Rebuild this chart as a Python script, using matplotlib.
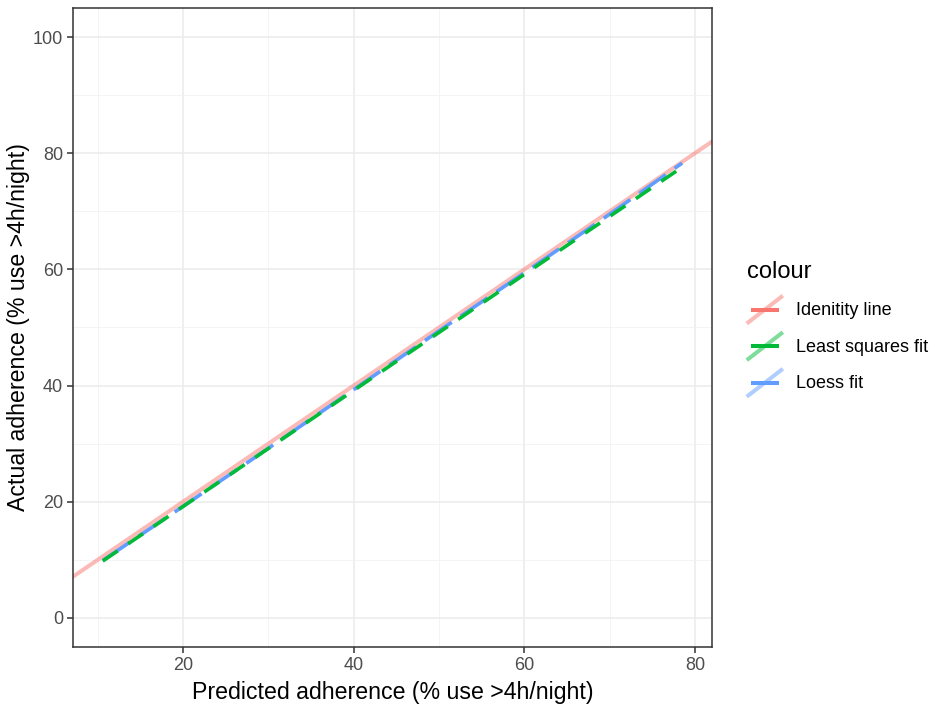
import numpy as np
import matplotlib as mpl
mpl.use('Agg')
import matplotlib.pyplot as plt
from matplotlib.lines import Line2D
from matplotlib.legend_handler import HandlerBase

plt.rcParams['font.family'] = ['Liberation Sans', 'DejaVu Sans']

# values
identity_x = [0, 100]
identity_y = [0, 100]

ls_x = [10.6, 78.4]
ls_y = [9.8, 77.5]

loess_x = [10.6, 20, 30, 40, 50, 60, 70, 78.5]
loess_y = [9.9, 19.2, 29.2, 39.3, 49.4, 59.4, 69.5, 78.3]

labels = ['Idenitity line', 'Least squares fit', 'Loess fit']
colours = ['#F8766D', '#00BA38', '#619CFF']

xticks = [20, 40, 60, 80]
yticks = [0, 20, 40, 60, 80, 100]


class KeyHandler(HandlerBase):
    # ggplot style key: light diagonal (abline) plus a solid horizontal stroke
    def create_artists(self, legend, orig_handle, xdescent, ydescent,
                       width, height, fontsize, trans):
        c = orig_handle.get_color()
        x0, y0 = -xdescent, -ydescent
        diag = Line2D([x0, x0 + width], [y0, y0 + height], color=c,
                      alpha=0.5, lw=2.9, solid_capstyle='butt', transform=trans)
        horiz = Line2D([x0 + width * 0.12, x0 + width * 0.88],
                       [y0 + height / 2, y0 + height / 2], color=c,
                       lw=2.9, solid_capstyle='butt', transform=trans)
        return [diag, horiz]


fig = plt.figure(figsize=(9.35, 7.12), dpi=100)
ax = fig.add_axes([0.078, 0.0913, 0.6835, 0.8975])

ax.set_xlim(7.1, 82.0)
ax.set_ylim(-5, 105)

ax.set_xticks(xticks)
ax.set_yticks(yticks)
ax.set_xticks([10, 30, 50, 70], minor=True)
ax.set_yticks([10, 30, 50, 70, 90], minor=True)
ax.grid(which='major', color='#EBEBEB', lw=1.1)
ax.grid(which='minor', color='#F2F2F2', lw=0.6)
ax.set_axisbelow(True)

ax.plot(identity_x, identity_y, color=colours[0], alpha=0.5, lw=2.9,
        solid_capstyle='butt')
ax.plot(loess_x, loess_y, color=colours[2], lw=2.6, dashes=(9, 3),
        solid_capstyle='butt')
ax.plot(ls_x, ls_y, color=colours[1], lw=2.6, dashes=(5, 3.5),
        dash_capstyle='butt')

for s in ax.spines.values():
    s.set_color('#333333')
    s.set_linewidth(1.1)

ax.tick_params(which='major', length=4, width=1.1, color='#333333',
               labelsize=13, labelcolor='#4D4D4D', pad=3)
ax.tick_params(which='minor', length=0)

ax.set_xlabel('Predicted adherence (% use >4h/night)', fontsize=16.7, labelpad=5)
ax.set_ylabel('Actual adherence (% use >4h/night)', fontsize=16.7, labelpad=2)

handles = [Line2D([], [], color=c) for c in colours]
leg = fig.legend(handles, labels, loc='center left',
                 bbox_to_anchor=(0.789, 0.538), frameon=False,
                 title='colour', title_fontsize=17, fontsize=13,
                 handler_map={Line2D: KeyHandler()},
                 handlelength=2.0, handleheight=2.0, labelspacing=0.48,
                 handletextpad=0.75, borderpad=0)
leg._legend_box.align = 'left'
leg._legend_box.sep = 9

plt.savefig('out.png', dpi=100)
